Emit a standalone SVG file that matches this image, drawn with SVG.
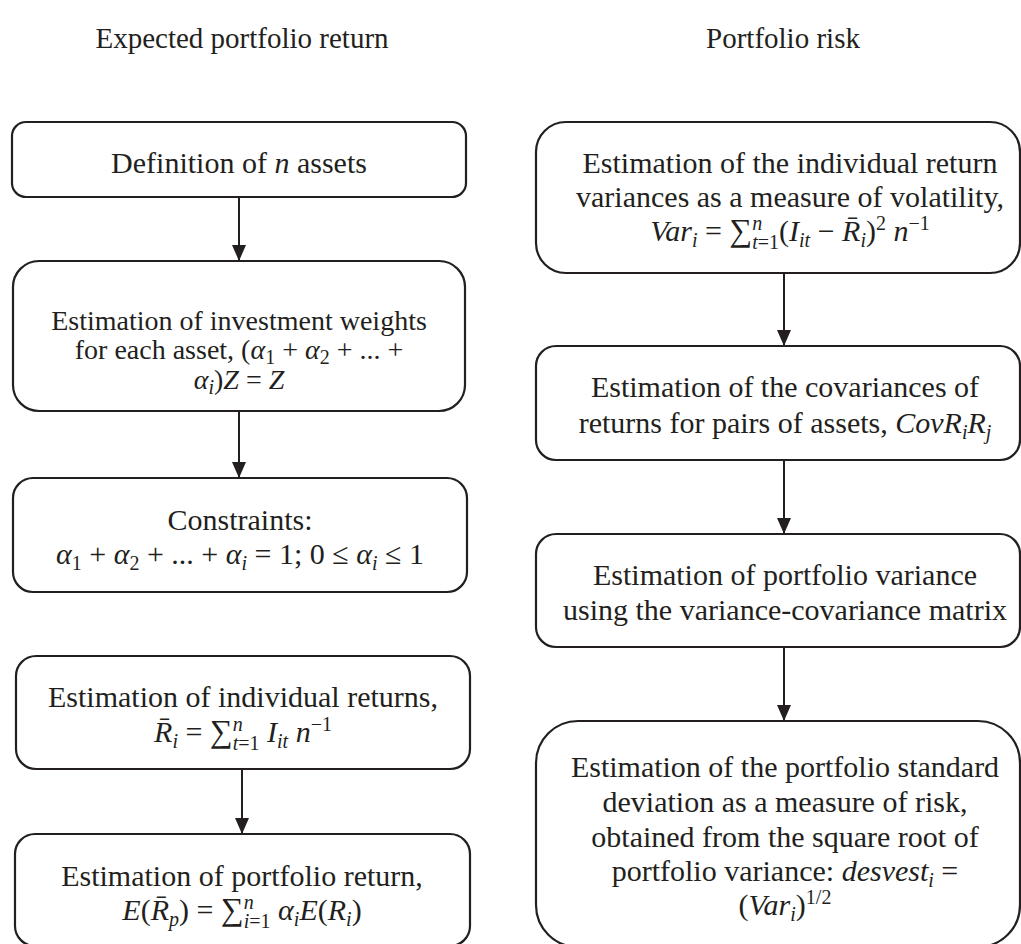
<svg xmlns="http://www.w3.org/2000/svg" width="1021" height="944" viewBox="0 0 1021 944">
<defs>
<style>
.box{fill:#fff;stroke:#231f20;stroke-width:2.2}
.t{font-family:"Liberation Serif","Times New Roman",serif;font-size:30px;fill:#231f20;text-anchor:middle}
.t2{font-size:28px}
.h{font-family:"Liberation Serif","Times New Roman",serif;font-size:29px;fill:#231f20;text-anchor:middle}
.m{font-style:italic}
.s{font-size:20px}
.sum{font-size:32px}
.c{stroke:#231f20;stroke-width:2;fill:none}
</style>
<marker id="ah" markerUnits="userSpaceOnUse" markerWidth="16" markerHeight="14" viewBox="0 0 16 14" refX="16" refY="7" orient="auto">
<path d="M0,0 L16,7 L0,14 z" fill="#231f20"/>
</marker>
</defs>
<rect width="1021" height="944" fill="#fff"/>

<text class="h" x="242" y="48">Expected portfolio return</text>
<text class="h" x="783" y="48">Portfolio risk</text>

<g id="connectors">
<line class="c" x1="239" y1="197" x2="239" y2="261" marker-end="url(#ah)"/>
<line class="c" x1="239" y1="411" x2="239" y2="478" marker-end="url(#ah)"/>
<line class="c" x1="242" y1="769" x2="242" y2="834" marker-end="url(#ah)"/>
<line class="c" x1="784" y1="273" x2="784" y2="346" marker-end="url(#ah)"/>
<line class="c" x1="784" y1="460" x2="784" y2="534" marker-end="url(#ah)"/>
<line class="c" x1="784" y1="647" x2="784" y2="721" marker-end="url(#ah)"/>
</g>

<g id="n-assets">
<rect class="box" x="12" y="122" width="454" height="75" rx="14"/>
<text class="t" x="239" y="173">Definition of <tspan class="m">n</tspan> assets</text>
</g>

<g id="weights">
<rect class="box" x="13" y="261" width="452" height="150" rx="26"/>
<text class="t t2" x="239" y="330">Estimation of investment weights</text>
<text class="t t2" x="239" y="359">for each asset, (<tspan class="m">α</tspan><tspan class="s" dy="5">1</tspan><tspan dy="-5"> + </tspan><tspan class="m">α</tspan><tspan class="s" dy="5">2</tspan><tspan dy="-5"> +  ... +</tspan></text>
<text class="t t2" x="239" y="389"><tspan class="m">α</tspan><tspan class="s m" dy="5">i</tspan><tspan dy="-5">)</tspan><tspan class="m">Z</tspan> = <tspan class="m">Z</tspan></text>
</g>

<g id="constraints">
<rect class="box" x="13" y="478" width="454" height="114" rx="20"/>
<text class="t" x="240" y="530">Constraints:</text>
<text class="t" x="240" y="564"><tspan class="m">α</tspan><tspan class="s" dy="6">1</tspan><tspan dy="-6"> + </tspan><tspan class="m">α</tspan><tspan class="s" dy="6">2</tspan><tspan dy="-6"> +  ... + </tspan><tspan class="m">α</tspan><tspan class="s m" dy="6">i</tspan><tspan dy="-6"> = 1; 0 ≤ </tspan><tspan class="m">α</tspan><tspan class="s m" dy="6">i</tspan><tspan dy="-6"> ≤ 1</tspan></text>
</g>

<g id="individual-returns">
<rect class="box" x="16" y="656" width="454" height="113" rx="20"/>
<text class="t" x="243" y="707">Estimation of individual returns,</text>
<text class="t" x="243" y="742"><tspan class="m">R̄</tspan><tspan class="s m" dy="6">i</tspan><tspan dy="-6"> = </tspan><tspan class="sum">∑</tspan><tspan class="s m" dy="-11">n</tspan><tspan class="s" dx="-10" dy="19"><tspan class="m">t</tspan>=1</tspan><tspan class="m" dy="-8"> I</tspan><tspan class="s m" dy="6">it</tspan><tspan class="m" dy="-6">  n</tspan><tspan class="s" dy="-11">−1</tspan></text>
</g>

<g id="portfolio-return">
<rect class="box" x="15" y="834" width="455" height="112" rx="20"/>
<text class="t" x="242" y="886">Estimation of portfolio return,</text>
<text class="t" x="242" y="920"><tspan class="m">E</tspan>(<tspan class="m">R̄</tspan><tspan class="s m" dy="6">p</tspan><tspan dy="-6">) = </tspan><tspan class="sum">∑</tspan><tspan class="s m" dy="-11">n</tspan><tspan class="s" dx="-10" dy="19"><tspan class="m">i</tspan>=1</tspan><tspan class="m" dy="-8"> α</tspan><tspan class="s m" dy="6">i</tspan><tspan class="m" dy="-6">E</tspan>(<tspan class="m">R</tspan><tspan class="s m" dy="6">i</tspan><tspan dy="-6">)</tspan></text>
</g>

<g id="variances">
<rect class="box" x="536" y="122" width="484" height="151" rx="30"/>
<text class="t" x="790" y="173">Estimation of the individual return</text>
<text class="t" x="790" y="207">variances as a measure of volatility,</text>
<text class="t" x="790" y="241"><tspan class="m">Var</tspan><tspan class="s m" dy="6">i</tspan><tspan dy="-6"> = </tspan><tspan class="sum">∑</tspan><tspan class="s m" dy="-11">n</tspan><tspan class="s" dx="-10" dy="19"><tspan class="m">t</tspan>=1</tspan><tspan dy="-8">(</tspan><tspan class="m">I</tspan><tspan class="s m" dy="6">it</tspan><tspan dy="-6"> − </tspan><tspan class="m">R̄</tspan><tspan class="s m" dy="6">i</tspan><tspan dy="-6">)</tspan><tspan class="s" dy="-11">2</tspan><tspan class="m" dy="11"> n</tspan><tspan class="s" dy="-11">−1</tspan></text>
</g>

<g id="covariances">
<rect class="box" x="536" y="346" width="484" height="114" rx="20"/>
<text class="t" x="785" y="397">Estimation of the covariances of</text>
<text class="t" x="785" y="433">returns for pairs of assets, <tspan class="m">CovR</tspan><tspan class="s m" dy="6">i</tspan><tspan class="m" dy="-6">R</tspan><tspan class="s m" dy="6">j</tspan></text>
</g>

<g id="portfolio-variance">
<rect class="box" x="536" y="534" width="484" height="113" rx="20"/>
<text class="t" x="785" y="585">Estimation of portfolio variance</text>
<text class="t" x="785" y="620">using the variance-covariance matrix</text>
</g>

<g id="standard-deviation">
<rect class="box" x="536" y="721" width="484" height="226" rx="42"/>
<text class="t" x="785" y="777">Estimation of the portfolio standard</text>
<text class="t" x="785" y="812">deviation as a measure of risk,</text>
<text class="t" x="785" y="847">obtained from the square root of</text>
<text class="t" x="785" y="881">portfolio variance: <tspan class="m">desvest</tspan><tspan class="s m" dy="6">i</tspan><tspan dy="-6"> =</tspan></text>
<text class="t" x="785" y="915">(<tspan class="m">Var</tspan><tspan class="s m" dy="6">i</tspan><tspan dy="-6">)</tspan><tspan class="s" dy="-11">1/2</tspan></text>
</g>
</svg>
